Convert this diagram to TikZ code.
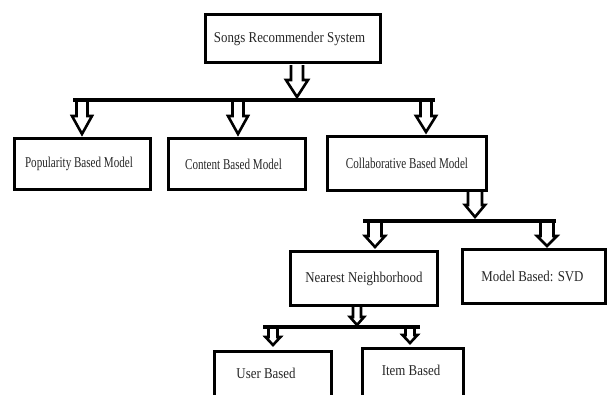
\documentclass[tikz,border=0pt]{standalone}
\usepackage{fontspec}
\setmainfont[FakeStretch=0.86]{Liberation Serif}
\newfontfamily\narrowserif[FakeStretch=0.74]{Liberation Serif}
\usetikzlibrary{calc}
\tikzset{
  box/.style={draw=black, line width=3.2pt, fill=white, inner sep=0pt, font=\fontsize{15}{17}\selectfont, text=black!85},
  narrowbox/.style={box, font=\narrowserif\fontsize{15}{17}\selectfont},
  label/.style={font=\fontsize{15}{17}\selectfont, text=black!85},
  barrow/.style={draw=black, fill=white, line width=2.6pt, line join=miter},
  hbar/.style={draw=black, line width=3.2pt}
}
\newcommand\blockarrow[5]{%
  \draw[barrow] let \p1=(#1) in (\x1-#4pt,\y1) -- (\x1-#4pt,-#3pt) -- (\x1-#5pt,-#3pt) -- (\x1,-#2pt) -- (\x1+#5pt,-#3pt) -- (\x1+#4pt,-#3pt) -- (\x1+#4pt,\y1);}
\begin{document}
\begin{tikzpicture}[x=1pt,y=-1pt]
\useasboundingbox (0,0) rectangle (610,394);
\clip (0,0) rectangle (610,394);
% boxes
\node[box, minimum width=175pt, minimum height=48pt] (top) at (293,38.5) {Songs Recommender System\hspace*{7pt}};
\node[narrowbox, minimum width=136pt, minimum height=51pt] (pop) at (82.5,164) {Popularity Based Model\hspace*{7pt}};
\node[narrowbox, minimum width=137pt, minimum height=51pt] (con) at (237,164) {Content Based Model\hspace*{7pt}};
\node[narrowbox, minimum width=159pt, minimum height=54pt] (col) at (407,163.5) {Collaborative Based Model};
\node[box, minimum width=147pt, minimum height=54pt] (nn) at (364,278.5) {Nearest Neighborhood};
\node[box, minimum width=143pt, minimum height=54pt] (svd) at (534,276.5) {Model Based: SVD\hspace*{3pt}};
\node[box, minimum width=117pt, minimum height=80pt, anchor=north] (user) at (273,349.5) {};
\node[box, minimum width=101pt, minimum height=80pt, anchor=north] (item) at (413,346.5) {};
\node[label] (usertxt) at (266,373) {User Based};
\node[label] (itemtxt) at (411,370) {Item Based};
% connector coordinates
\coordinate (a0) at (297,65);
\coordinate (p1) at (82,100);
\coordinate (p2) at (238,100);
\coordinate (p3) at (426,100);
\coordinate (a4) at (475,192);
\coordinate (p5) at (375,221);
\coordinate (p6) at (547,221);
\coordinate (a7) at (357,307);
\coordinate (p8) at (273,327);
\coordinate (p9) at (410,327);
% arrows
\blockarrow{a0}{97}{80}{6}{11}
\blockarrow{p1}{134}{116}{5.5}{10}
\blockarrow{p2}{134}{116}{5.5}{10}
\blockarrow{p3}{132}{116}{5.5}{10}
\blockarrow{a4}{217}{205}{7}{10}
\blockarrow{p5}{247}{236}{6.5}{10}
\blockarrow{p6}{246}{236}{6.5}{10}
\blockarrow{a7}{325}{317}{4}{7}
\blockarrow{p8}{345}{337}{4.5}{7.5}
\blockarrow{p9}{343}{335}{4.5}{7.5}
% bars
\draw[hbar] (73,100) -- (435,100);
\draw[hbar] (363,221) -- (556,221);
\draw[hbar] (263,327) -- (420,327);
\end{tikzpicture}
\end{document}
